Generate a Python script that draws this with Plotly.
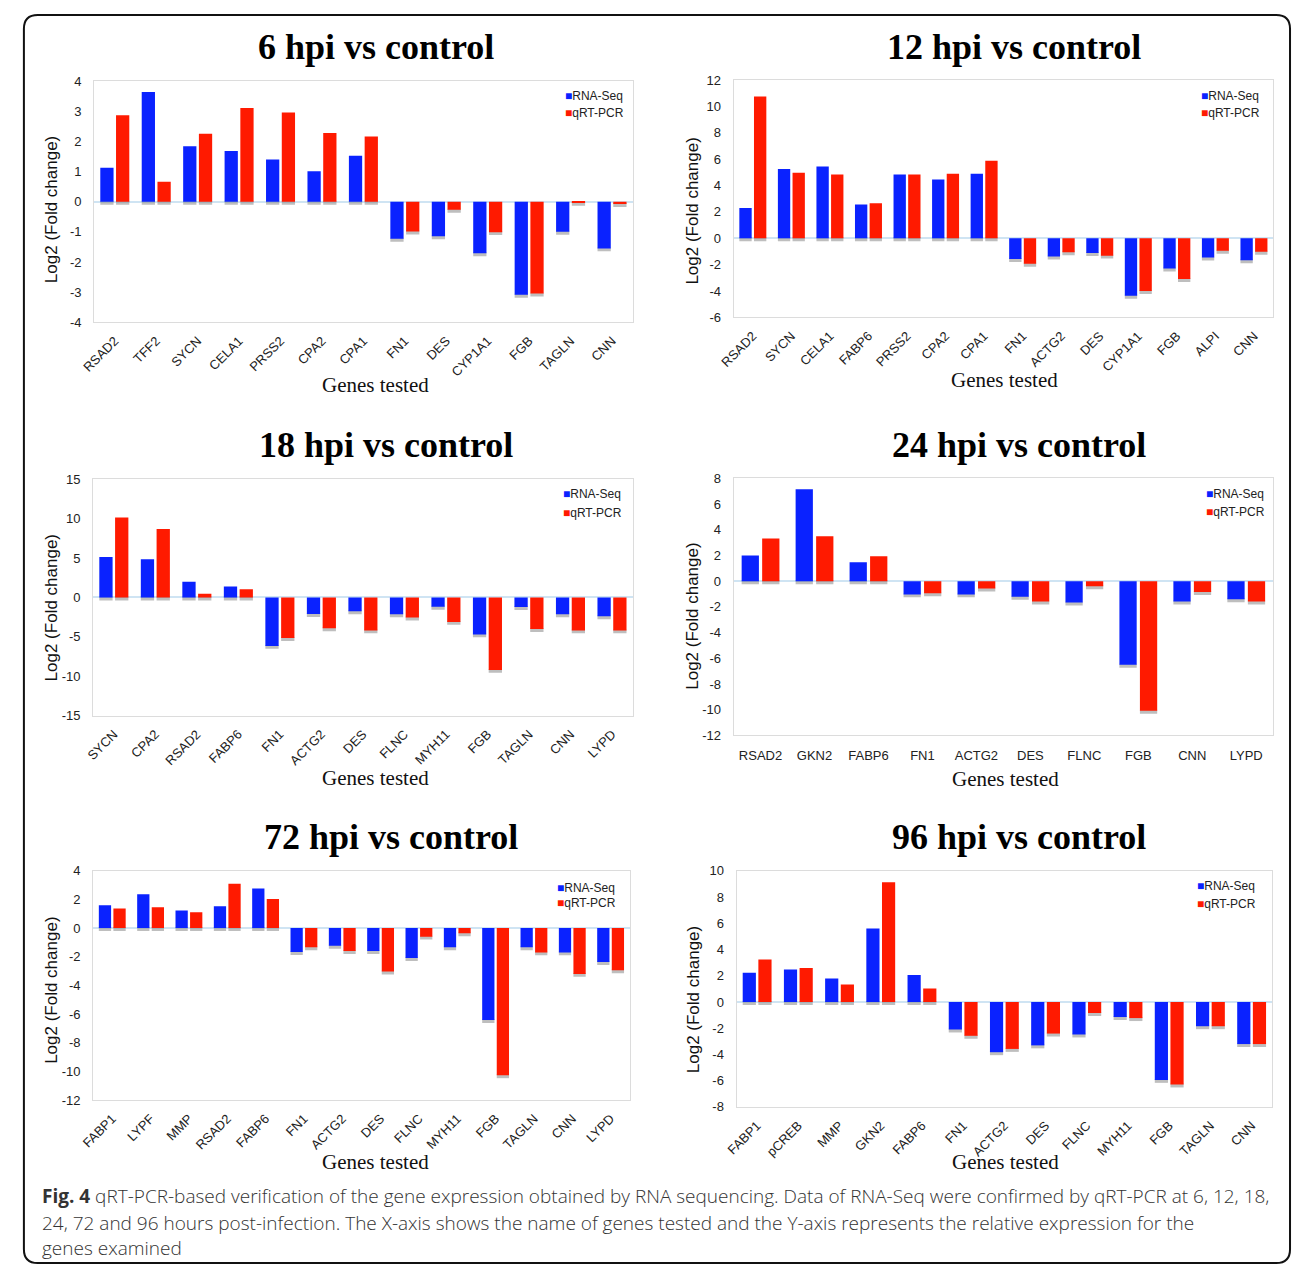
import plotly.graph_objects as go

W, H = 1292, 1276

# ---------------- data ----------------
genes_6 = ["RSAD2", "TFF2", "SYCN", "CELA1", "PRSS2", "CPA2", "CPA1", "FN1", "DES", "CYP1A1", "FGB", "TAGLN", "CNN"]
rna_6 = [1.13, 3.64, 1.84, 1.68, 1.40, 1.01, 1.52, -1.23, -1.15, -1.71, -3.09, -1.00, -1.55]
qpcr_6 = [2.87, 0.66, 2.25, 3.11, 2.96, 2.28, 2.16, -0.99, -0.27, -1.01, -3.05, -0.04, -0.08]

genes_12 = ["RSAD2", "SYCN", "CELA1", "FABP6", "PRSS2", "CPA2", "CPA1", "FN1", "ACTG2", "DES", "CYP1A1", "FGB", "ALPI", "CNN"]
rna_12 = [2.30, 5.25, 5.45, 2.56, 4.83, 4.46, 4.90, -1.57, -1.39, -1.12, -4.36, -2.29, -1.47, -1.67]
qpcr_12 = [10.75, 4.98, 4.83, 2.66, 4.83, 4.90, 5.88, -1.94, -1.07, -1.32, -4.00, -3.09, -0.95, -1.02]

genes_18 = ["SYCN", "CPA2", "RSAD2", "FABP6", "FN1", "ACTG2", "DES", "FLNC", "MYH11", "FGB", "TAGLN", "CNN", "LYPD"]
rna_18 = [5.15, 4.85, 2.00, 1.38, -6.15, -2.10, -1.76, -2.13, -1.17, -4.69, -1.21, -2.13, -2.38]
qpcr_18 = [10.17, 8.70, 0.46, 1.05, -5.15, -3.90, -4.18, -2.55, -3.10, -9.20, -4.00, -4.18, -4.18]

genes_24 = ["RSAD2", "GKN2", "FABP6", "FN1", "ACTG2", "DES", "FLNC", "FGB", "CNN", "LYPD"]
rna_24 = [2.00, 7.15, 1.47, -1.03, -1.03, -1.21, -1.67, -6.50, -1.59, -1.41]
qpcr_24 = [3.32, 3.50, 1.93, -0.95, -0.57, -1.59, -0.39, -10.08, -0.85, -1.59]

genes_72 = ["FABP1", "LYPF", "MMP", "RSAD2", "FABP6", "FN1", "ACTG2", "DES", "FLNC", "MYH11", "FGB", "TAGLN", "CNN", "LYPD"]
rna_72 = [1.59, 2.35, 1.22, 1.52, 2.76, -1.68, -1.24, -1.61, -2.09, -1.34, -6.42, -1.34, -1.70, -2.37]
qpcr_72 = [1.36, 1.45, 1.10, 3.10, 2.03, -1.34, -1.61, -3.04, -0.60, -0.37, -10.27, -1.70, -3.20, -2.95]

genes_96 = ["FABP1", "pCREB", "MMP", "GKN2", "FABP6", "FN1", "ACTG2", "DES", "FLNC", "MYH11", "FGB", "TAGLN", "CNN"]
rna_96 = [2.23, 2.48, 1.78, 5.59, 2.06, -2.10, -3.83, -3.31, -2.48, -1.15, -5.94, -1.85, -3.21]
qpcr_96 = [3.23, 2.58, 1.33, 9.12, 1.03, -2.58, -3.58, -2.41, -0.85, -1.23, -6.29, -1.85, -3.21]

series_names = ["RNA-Seq", "qRT-PCR"]
panel_titles = ["6 hpi vs control", "12 hpi vs control", "18 hpi vs control",
                "24 hpi vs control", "72 hpi vs control", "96 hpi vs control"]
x_title = "Genes tested"
y_title = "Log2 (Fold change)"
caption_lines = [
    "<b>Fig. 4</b> qRT-PCR-based verification of the gene expression obtained by RNA sequencing. Data of RNA-Seq were confirmed by qRT-PCR at 6, 12, 18,",
    "24, 72 and 96 hours post-infection. The X-axis shows the name of genes tested and the Y-axis represents the relative expression for the",
    "genes examined",
]

# ---------------- layout/styling ----------------
BLUE = "#0a22ff"
RED = "#ff1a00"
COLORS = [BLUE, RED]

panels = [
    dict(genes=genes_6, rna=rna_6, q=qpcr_6, yr=(-4, 4), dt=1, box=(80, 75, 625, 319),
         title=(365, 40), xt=(365, 383), yt=(37, 205), leg=(554, 90, 107), ang=-45),
    dict(genes=genes_12, rna=rna_12, q=qpcr_12, yr=(-6, 12), dt=2, box=(727, 74, 1273, 314),
         title=(1011, 40), xt=(1001, 377), yt=(686, 207), leg=(1198, 90, 107), ang=-45),
    dict(genes=genes_18, rna=rna_18, q=qpcr_18, yr=(-15, 15), dt=5, box=(79, 478, 625, 717),
         title=(375, 443), xt=(365, 780), yt=(37, 608), leg=(552, 493, 512), ang=-45),
    dict(genes=genes_24, rna=rna_24, q=qpcr_24, yr=(-12, 8), dt=2, box=(727, 477, 1273, 737),
         title=(1016, 443), xt=(1002, 781), yt=(686, 617), leg=(1203, 493, 511), ang=0),
    dict(genes=genes_72, rna=rna_72, q=qpcr_72, yr=(-12, 4), dt=2, box=(79, 874, 622, 1106),
         title=(380, 840), xt=(365, 1169), yt=(37, 995), leg=(546, 891, 907), ang=-45),
    dict(genes=genes_96, rna=rna_96, q=qpcr_96, yr=(-8, 10), dt=2, box=(730, 874, 1272, 1113),
         title=(1016, 840), xt=(1002, 1169), yt=(686, 1005), leg=(1194, 889, 908), ang=-45),
]

def px(x):
    return x / W

def py(y):
    return 1 - y / H

fig = go.Figure()
annotations = []
BW = 0.32
OFF = [-0.35, 0.03]
TICKFONT = dict(family="Liberation Sans, Arial", size=13, color="#222222")

for i, p in enumerate(panels):
    k = "" if i == 0 else str(i + 1)
    xa, ya = "x" + k, "y" + k
    l, t, r, b = p["box"]
    ymin, ymax = p["yr"]
    ppu = (b - t) / (ymax - ymin)
    sh = 3.0 / ppu
    # drop shadows under the bars
    for s, vals in enumerate([p["rna"], p["q"]]):
        fig.add_trace(go.Bar(
            x=p["genes"], y=[sh + 1.0 / ppu] * len(vals),
            base=[min(v, 0) - sh for v in vals],
            width=BW, offset=OFF[s],
            marker=dict(color="rgba(110,110,110,0.45)", line=dict(width=0)),
            xaxis=xa, yaxis=ya, showlegend=False, hoverinfo="skip"))
    for s, vals in enumerate([p["rna"], p["q"]]):
        fig.add_trace(go.Bar(
            x=p["genes"], y=vals, width=BW, offset=OFF[s], name=series_names[s],
            marker=dict(color=COLORS[s], line=dict(width=0)),
            xaxis=xa, yaxis=ya, showlegend=False))

    tickvals = list(range(ymin, ymax + 1, p["dt"]))
    ticktext = [str(v) for v in tickvals]  # plain hyphen-minus like the original

    fig.update_layout(**{
        ("xaxis" + k): dict(
            domain=[px(l), px(r)], anchor=ya, type="category",
            range=[-0.5, len(p["genes"]) - 0.5],
            showline=True, linecolor="#dcdcdc", linewidth=1, mirror=True,
            showgrid=False, zeroline=False, ticks="",
            tickangle=p["ang"], ticklabelstandoff=5 if p["ang"] else 8,
            tickfont=TICKFONT,
        ),
        ("yaxis" + k): dict(
            domain=[py(b), py(t)], anchor=xa,
            range=[ymin, ymax], tickmode="array", tickvals=tickvals, ticktext=ticktext,
            showline=True, linecolor="#dcdcdc", linewidth=1, mirror=True,
            showgrid=False, zeroline=True, zerolinecolor="#cfe4f3", zerolinewidth=1.5,
            ticks="", ticklabelstandoff=9,
            tickfont=TICKFONT,
        ),
    })

    # legend keys
    lx, ly1, ly2 = p["leg"]
    for s, ly in enumerate([ly1, ly2]):
        annotations.append(dict(
            x=px(lx), y=py(ly), xref="paper", yref="paper", showarrow=False,
            xanchor="left", yanchor="middle",
            text=f'<span style="color:{COLORS[s]}">■</span>{series_names[s]}',
            font=dict(family="Liberation Sans, Arial", size=12, color="#222222")))

    annotations.append(dict(
        x=px(p["title"][0]), y=py(p["title"][1]), xref="paper", yref="paper",
        text="<b>" + panel_titles[i] + "</b>", showarrow=False,
        xanchor="center", yanchor="middle",
        font=dict(family="Liberation Serif, Times New Roman", size=36, color="#000000")))
    annotations.append(dict(
        x=px(p["xt"][0]), y=py(p["xt"][1]), xref="paper", yref="paper",
        text=x_title, showarrow=False, xanchor="center", yanchor="middle",
        font=dict(family="Liberation Serif, Times New Roman", size=21, color="#111111")))
    annotations.append(dict(
        x=px(p["yt"][0]), y=py(p["yt"][1]), xref="paper", yref="paper",
        text=y_title, showarrow=False, xanchor="center", yanchor="middle", textangle=-90,
        font=dict(family="Liberation Sans, Arial", size=17, color="#111111")))

cap_y = [1203, 1230, 1256]
for line, yy in zip(caption_lines, cap_y):
    annotations.append(dict(
        x=px(25), y=py(yy), xref="paper", yref="paper", text=line, showarrow=False,
        xanchor="left", yanchor="middle",
        font=dict(family="Open Sans, Noto Sans", size=19.0, color="#333333", weight=300)))

# rounded border
x0, y0, x1, y1, rr = 9, 8, 1290, 1271, 14
def P(x, y):
    return f"{px(x):.5f},{py(y):.5f}"
path = (f"M {P(x0 + rr, y0)} L {P(x1 - rr, y0)} Q {P(x1, y0)} {P(x1, y0 + rr)} "
        f"L {P(x1, y1 - rr)} Q {P(x1, y1)} {P(x1 - rr, y1)} "
        f"L {P(x0 + rr, y1)} Q {P(x0, y1)} {P(x0, y1 - rr)} "
        f"L {P(x0, y0 + rr)} Q {P(x0, y0)} {P(x0 + rr, y0)} Z")

fig.update_layout(
    width=W, height=H, margin=dict(l=0, r=0, t=0, b=0),
    paper_bgcolor="white", plot_bgcolor="white",
    barmode="overlay", showlegend=False,
    annotations=annotations,
    shapes=[dict(type="path", path=path, xref="paper", yref="paper",
                 line=dict(color="#111111", width=2), layer="above")],
)

fig.write_html("out.html")
